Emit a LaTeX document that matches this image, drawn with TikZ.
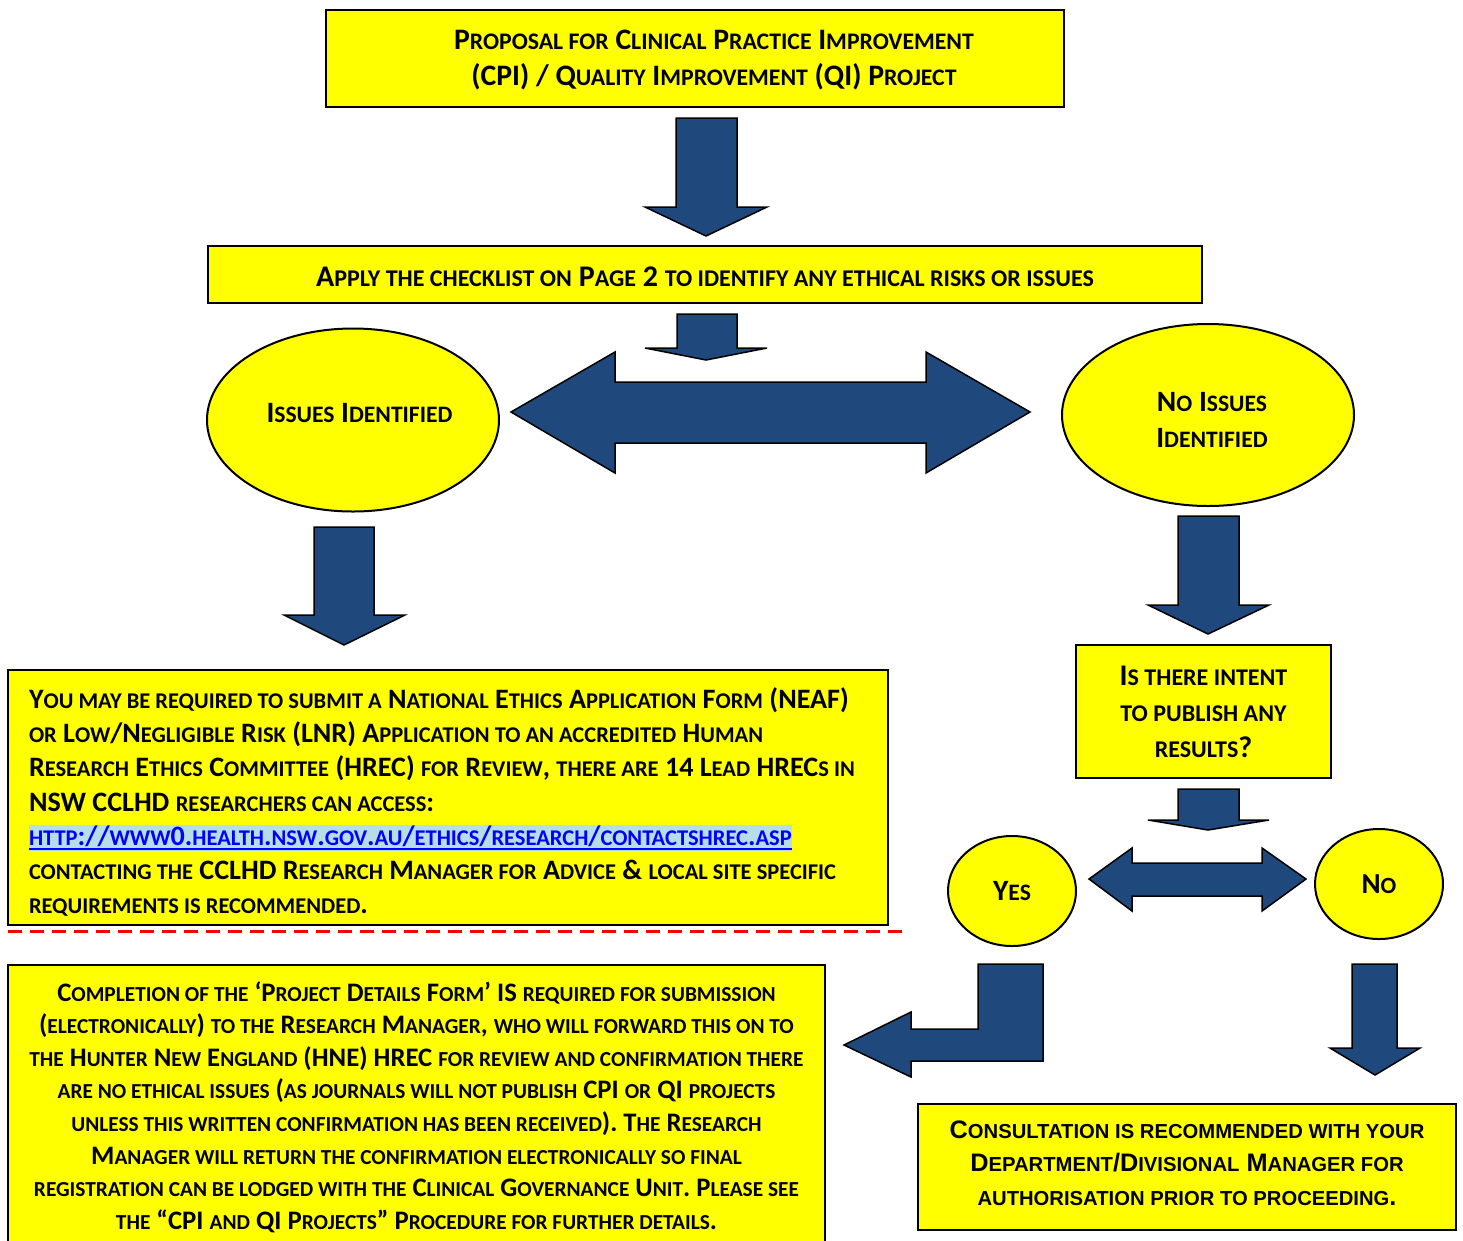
\documentclass[tikz,border=0pt]{standalone}
\usepackage{fontspec}
\setmainfont{Carlito}
\newfontfamily\arialfont{Liberation Sans}
\usetikzlibrary{shapes.geometric, positioning}

\definecolor{boxyellow}{RGB}{255,255,0}
\definecolor{arrowblue}{RGB}{31,73,125}
\definecolor{linkfg}{RGB}{0,0,255}
\definecolor{linkbg}{RGB}{183,222,232}

% word-style small caps: lower case letters become smaller capitals
\makeatletter
\newcommand\lcx[1]{{\fontsize{\fpeval{0.8*\f@size}}{\baselineskip}\selectfont\MakeUppercase{#1}}}
\makeatother
\ExplSyntaxOn
\NewDocumentCommand\fsc{m}{
  \tl_set:Nn \l_tmpa_tl {#1}
  \regex_replace_all:nnN { ([a-z]+(?:\s+[a-z]+)*) } { \c{lcx}\cB\{\1\cE\} } \l_tmpa_tl
  \tl_use:N \l_tmpa_tl
}
\ExplSyntaxOff
\newsavebox\linkbox
\newcommand\linkx[1]{\leavevmode\sbox\linkbox{\color{linkfg}#1}%
  \rlap{\textcolor{linkbg}{\rule[-6pt]{\wd\linkbox}{26pt}}}%
  \rlap{\textcolor{linkfg}{\rule[-5pt]{\wd\linkbox}{2.5pt}}}\usebox\linkbox}

\begin{document}
\begin{tikzpicture}[
  x=1pt, y=-1pt,
  box/.style={draw, line width=2pt, fill=boxyellow, inner sep=0pt, align=flush center},
  oval/.style={draw, ellipse, line width=2pt, fill=boxyellow, inner sep=0pt, align=flush center},
  blk/.style={draw, line width=1.5pt, fill=arrowblue, line join=miter},
  cut/.style={draw=red, line width=3pt, dash pattern=on 14pt off 8pt}
]
  \useasboundingbox (0,0) rectangle (1463,1240);
  \clip (0,0) rectangle (1463,1240);

  \node[box, minimum width=738, minimum height=97, font=\fontsize{29.7}{36}\selectfont\bfseries] (prop) at (695,58.5)
    {\raisebox{-2pt}[\height][\depth]{\begin{tabular}{@{\hspace{38pt}}c@{}}\fsc{Proposal for Clinical Practice Improvement}\\
      \fsc{(CPI) / Quality Improvement (QI) Project}\end{tabular}}};
  \node[box, minimum width=994, minimum height=57, font=\fontsize{30}{36}\selectfont\bfseries] (check) at (705,274.5)
    {\raisebox{-2pt}[\height][\depth]{\fsc{Apply the checklist on Page 2 to identify any ethical risks or issues}}};
  \node[oval, minimum width=292, minimum height=183, font=\fontsize{29.5}{36}\selectfont\bfseries] (issues) at (353,420)
    {\raisebox{7pt}[\height][\depth]{\hspace*{13pt}\fsc{Issues Identified}}};
  \node[oval, minimum width=292, minimum height=182, font=\fontsize{29.5}{36}\selectfont\bfseries] (noissues) at (1208,415)
    {\raisebox{-7pt}[\height][\depth]{\begin{tabular}{@{\hspace{8pt}}c@{}}\fsc{No Issues}\\\fsc{Identified}\end{tabular}}};
  \node[box, minimum width=880, minimum height=255, inner xsep=21, font=\fontsize{28.1}{34.2}\selectfont\bfseries] (neaf) at (448,797.5)
    {\raisebox{-4.5pt}[\height][\depth]{\parbox{838pt}{\raggedright
      \fsc{You may be required to submit a National Ethics Application Form (NEAF)\\
      or Low/Negligible Risk (LNR) Application to an accredited Human\\
      Research Ethics Committee (HREC) for Review, there are 14 Lead HRECs in\\
      NSW CCLHD researchers can access:\\
      \linkx{http://www0.health.nsw.gov.au/ethics/research/contactshrec.asp}\\
      contacting the CCLHD Research Manager for Advice \& local site specific\\
      requirements is recommended.}}}};
  \node[box, minimum width=255, minimum height=133, font=\fontsize{30}{36}\selectfont\bfseries] (intent) at (1203.5,711.5)
    {\fsc{Is there intent\\to publish any\\results?}};
  \node[oval, minimum width=128, minimum height=110, font=\fontsize{29.5}{36}\selectfont\bfseries] (yes) at (1012,891) {\fsc{Yes}};
  \node[oval, minimum width=128, minimum height=110, font=\fontsize{29}{36}\selectfont\bfseries] (no) at (1379,884) {\fsc{No}};
  \node[box, minimum width=817, minimum height=284, font=\fontsize{26.7}{32.6}\selectfont\bfseries] (details) at (416.5,1107)
    {\fsc{Completion of the ‘Project Details Form’ IS required for submission\\
      (electronically) to the Research Manager, who will forward this on to\\
      the Hunter New England (HNE) HREC for review and confirmation there\\
      are no ethical issues (as journals will not publish CPI or QI projects\\
      unless this written confirmation has been received). The Research\\
      Manager will return the confirmation electronically so final\\
      registration can be lodged with the Clinical Governance Unit. Please see\\
      the “CPI and QI Projects” Procedure for further details.}};
  \node[box, minimum width=538, minimum height=126, font=\fontsize{25.3}{33.5}\selectfont\arialfont\bfseries] (consult) at (1187,1167)
    {\raisebox{2pt}[\height][\depth]{\begin{tabular}{@{}c@{}}\fsc{Consultation is recommended with your}\\
      \fsc{Department/Divisional Manager for}\\\fsc{authorisation prior to proceeding.}\end{tabular}}};

  % block arrows
  \draw[blk] (676,118) -- (737,118) -- (737,207) -- (767,207) -- (706,236) -- (645,207) -- (676,207) -- cycle;
  \draw[blk] (677,314) -- (737,314) -- (737,348) -- (767,348) -- (706,360) -- (645,348) -- (677,348) -- cycle;
  \draw[blk] (511,412) -- (615,352) -- (615,382) -- (926,382) -- (926,352) -- (1030,412)
    -- (926,473) -- (926,443) -- (615,443) -- (615,473) -- cycle;
  \draw[blk] (314,527) -- (374,527) -- (374,615) -- (405,615) -- (344,645) -- (284,615) -- (314,615) -- cycle;
  \draw[blk] (1178,516) -- (1239,516) -- (1239,605) -- (1269,605) -- (1208,634) -- (1148,605) -- (1178,605) -- cycle;
  \draw[blk] (1178,789) -- (1239,789) -- (1239,820) -- (1269,820) -- (1208,830) -- (1148,820) -- (1178,820) -- cycle;
  \draw[blk] (1089,879) -- (1132,848) -- (1132,863) -- (1262,863) -- (1262,848) -- (1306,879)
    -- (1262,911) -- (1262,896) -- (1132,896) -- (1132,911) -- cycle;
  \draw[blk] (978,964) -- (1043,964) -- (1043,1061) -- (911,1061) -- (911,1077) -- (844,1045)
    -- (911,1012) -- (911,1029) -- (978,1029) -- cycle;
  \draw[blk] (1352,964) -- (1397,964) -- (1397,1048) -- (1420,1048) -- (1375,1075) -- (1330,1048) -- (1352,1048) -- cycle;

  % cut line
  \coordinate (cutL) at (8,931);
  \coordinate (cutR) at (905,931);
  \draw[cut] (cutL) -- (cutR);
\end{tikzpicture}
\end{document}
